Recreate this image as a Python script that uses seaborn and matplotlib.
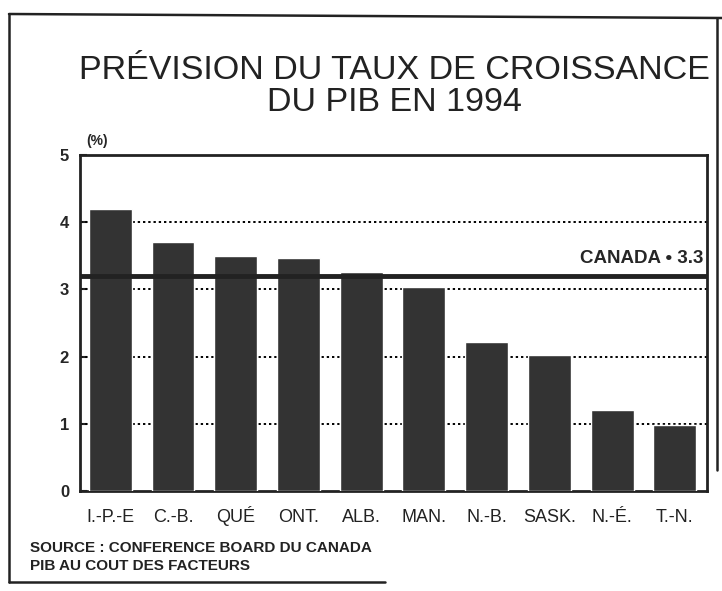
import numpy as np
import pandas as pd
import matplotlib
matplotlib.use("Agg")
import matplotlib.pyplot as plt
from matplotlib.lines import Line2D
import seaborn as sns

sns.set_style("ticks")
plt.rcParams['font.family'] = ['Liberation Sans', 'DejaVu Sans']

# data
provinces = ['I.-P.-E', 'C.-B.', 'QUÉ', 'ONT.', 'ALB.', 'MAN.', 'N.-B.', 'SASK.', 'N.-É.', 'T.-N.']
growth = [4.2, 3.7, 3.5, 3.47, 3.26, 3.04, 2.22, 2.03, 1.2, 0.99]
canada = 3.2
canada_label = 'CANADA \u2022 3.3'
yticks = [0, 1, 2, 3, 4, 5]
title = 'PRÉVISION DU TAUX DE CROISSANCE\nDU PIB EN 1994'
source = 'SOURCE : CONFERENCE BOARD DU CANADA\nPIB AU COUT DES FACTEURS'

df = pd.DataFrame({'Province': provinces, 'Croissance': growth})

fig = plt.figure(figsize=(7.22, 5.91), dpi=100)
ax = fig.add_axes([0.111, 0.169, 0.868, 0.569])

sns.barplot(data=df, x='Province', y='Croissance', color='#333333',
            saturation=1, width=0.685, ax=ax, zorder=3)

ax.set_ylim(0, 5)
ax.set_xlim(-0.48, len(provinces) - 0.49)
ax.set_yticks(yticks)
ax.set_yticklabels([str(t) for t in yticks], fontsize=12, fontweight='bold')
ax.tick_params(axis='y', direction='in', length=5, width=1.5, pad=8)
# category labels share one baseline (the accent on QUÉ would push it down otherwise)
ax.tick_params(axis='x', length=0, labelbottom=False)
for i, name in enumerate(provinces):
    ax.text(i, -0.092, name, transform=ax.get_xaxis_transform(), ha='center',
            va='baseline', fontsize=13, color='#222222')
ax.set_xlabel('')
ax.set_ylabel('')

for t in yticks[1:-1]:
    ax.axhline(t, color='black', lw=1.4, ls=(0, (1.2, 1.5)), zorder=1)

ax.axhline(canada, color='#222222', lw=3.5, zorder=4)
ax.text(0.995, canada + 0.13, canada_label, transform=ax.get_yaxis_transform(),
        ha='right', va='bottom', fontsize=13.5, fontweight='bold')

for s in ax.spines.values():
    s.set_visible(True)
    s.set_linewidth(2)
    s.set_color('#222222')

ax.text(0.027, 1.02, '(%)', transform=ax.transAxes, ha='center', va='bottom',
        fontsize=10, fontweight='bold')

fig.text(0.547, 0.853, title, ha='center', va='center', fontsize=24.5,
         linespacing=1.05, color='#222222')
fig.text(0.042, 0.03, source, ha='left', va='bottom', fontsize=11,
         fontweight='bold', linespacing=1.4, color='#222222')

# scanned page border
W, H = 722, 591
border = [([9, 9], [14, 582]), ([9, 722], [14, 18]), ([717, 717], [18, 470]),
          ([9, 385], [582, 582])]
for xs, ys in border:
    fig.add_artist(Line2D([x / W for x in xs], [1 - y / H for y in ys],
                          color='#222222', lw=1.8, transform=fig.transFigure))

fig.savefig('out.png', dpi=100)
